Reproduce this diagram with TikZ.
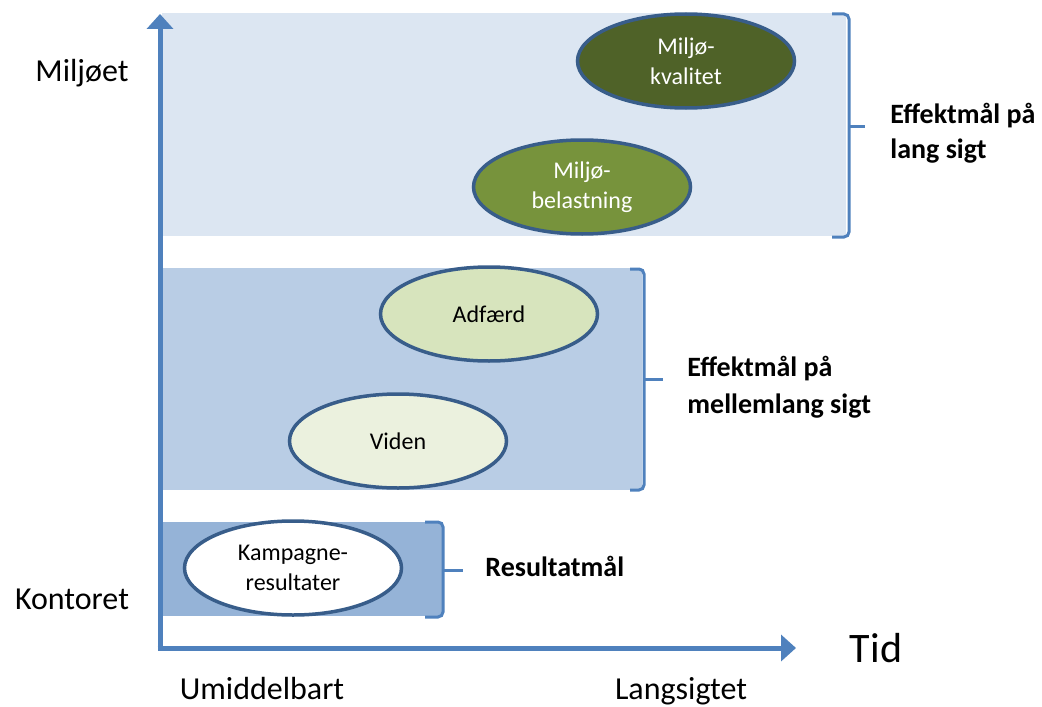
\documentclass[tikz,border=0pt]{standalone}
\usepackage{fontspec}
\setmainfont{Carlito}
\usetikzlibrary{positioning, shapes.geometric, arrows.meta}

\definecolor{bandtop}{HTML}{DCE6F2}
\definecolor{bandmid}{HTML}{B9CDE5}
\definecolor{bandlow}{HTML}{95B3D7}
\definecolor{axisblue}{HTML}{4F81BD}
\definecolor{ellborder}{HTML}{385D8A}
\definecolor{darkgreen}{HTML}{4F6228}
\definecolor{midgreen}{HTML}{77933C}
\definecolor{lightgreen}{HTML}{D7E4BD}
\definecolor{palegreen}{HTML}{EBF1DE}

\tikzset{
  band/.style={inner sep=0, outer sep=0, anchor=north west},
  goal/.style={ellipse, draw=ellborder, line width=1.75pt, minimum width=108.5pt, minimum height=47pt, inner sep=0, align=center, font=\fontsize{12}{15}\selectfont},
  bracket/.style={draw=axisblue, line width=1.5pt, rounded corners=2.5pt},
  axis/.style={draw=axisblue, line width=2.5pt, -{Triangle[width=13pt,length=7.5pt]}},
  axislabel/.style={font=\fontsize{16}{19}\selectfont, anchor=base},
  goallabel/.style={font=\bfseries\fontsize{14}{17.5}\selectfont, align=left, anchor=north west, inner sep=0},
}

\begin{document}
\begin{tikzpicture}[x=0.5pt, y=-0.5pt]
    \useasboundingbox (0,0) rectangle (1042,706);

    % bands
    \node[band, fill=bandtop, minimum width=342pt, minimum height=111.5pt] (lang band) at (162,13) {};
    \node[band, fill=bandmid, minimum width=240pt, minimum height=111pt] (mellem band) at (162,268) {};
    \node[band, fill=bandlow, minimum width=140.5pt, minimum height=47pt] (result band) at (162,522) {};

    % goals
    \node[goal, fill=darkgreen, text=white] (kvalitet) at (686,61) {Miljø-\\kvalitet};
    \node[goal, fill=midgreen, text=white] (belastning) at (582,187) {Miljø-\\belastning};
    \node[goal, fill=lightgreen] (adfaerd) at (489,314) {Adfærd};
    \node[goal, fill=palegreen] (viden) at (398,441) {Viden};
    \node[goal, fill=white] (kampagne) at (293,568) {Kampagne-\\resultater};

    % brackets
    \draw[bracket] (832,14) -- (849,14) -- (849,237) -- (832,237);
    \draw[bracket] (849,126) -- (865,126);
    \draw[bracket] (630,269) -- (644,269) -- (644,490) -- (630,490);
    \draw[bracket] (644,379) -- (663,379);
    \draw[bracket] (425,522) -- (443,522) -- (443,617) -- (425,617);
    \draw[bracket] (443,570) -- (463,570);

    \node[goallabel] (lang label) at (890,103) {Effektmål på\\lang sigt};
    \node[goallabel, font=\bfseries\fontsize{14}{18.5}\selectfont] (mellem label) at (687,356) {Effektmål på\\mellemlang sigt};
    \node[goallabel] (result label) at (485,556) {Resultatmål};

    % axes
    \coordinate (origin) at (160,648);
    \coordinate (y tip) at (160,14);
    \coordinate (x tip) at (796,648);
    \draw[axis] (origin) -- (y tip);
    \draw[axis] ([xshift=-1.25pt]origin) -- (x tip);

    \node[axislabel] (miljoet) at (82,82) {Miljøet};
    \node[axislabel] (kontoret) at (72,609) {Kontoret};
    \node[axislabel, font=\fontsize{21}{25}\selectfont] (tid) at (876,662) {Tid};
    \node[axislabel] (umiddelbart) at (262,699) {Umiddelbart};
    \node[axislabel] (langsigtet) at (681,699) {Langsigtet};
\end{tikzpicture}
\end{document}
